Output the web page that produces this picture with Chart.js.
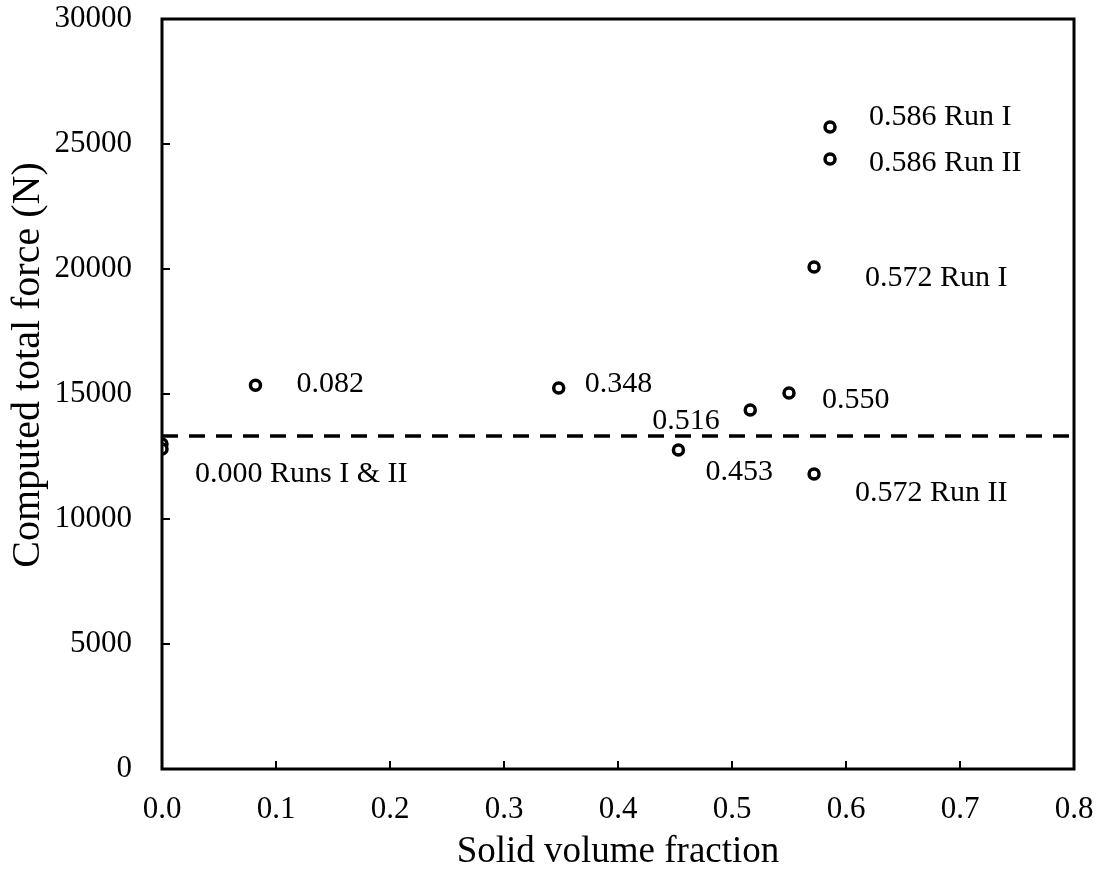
<!DOCTYPE html>
<html>
<head>
<meta charset="utf-8">
<script src="https://cdn.jsdelivr.net/npm/chart.js@4/dist/chart.umd.min.js"></script>
<style>
  body { margin: 0; background: #fff; }
  #forceChart { display: block; }
</style>
</head>
<body>
<canvas id="forceChart" width="1101" height="874"></canvas>
<script>
// solid volume fraction of each run
var fractions = [0.000, 0.000, 0.082, 0.348, 0.453, 0.516, 0.550, 0.572, 0.572, 0.586, 0.586];
// computed total force (N)
var forces = [13000, 12800, 15350, 15240, 12760, 14360, 15040, 20080, 11800, 25680, 24400];
var pointLabels = ["", "0.000 Runs I & II", "0.082", "0.348", "0.453", "0.516", "0.550",
                   "0.572 Run I", "0.572 Run II", "0.586 Run I", "0.586 Run II"];
// where each label sits relative to its point (pixels, left edge / middle)
var labelOffsets = [[0, 0], [33, 25], [41, -1], [26, -4], [27, 22], [-98, 11], [33, 7],
                    [51, 11], [41, 19], [39, -10], [39, 4]];
var meanForce = 13320;
var xTicks = [0, 0.1, 0.2, 0.3, 0.4, 0.5, 0.6, 0.7, 0.8];
var yTicks = [0, 5000, 10000, 15000, 20000, 25000, 30000];

var serif = "'Liberation Serif', 'Times New Roman', serif";

var points = fractions.map(function (f, i) { return { x: f, y: forces[i] }; });

function noPad(s) {
  s.paddingLeft = 0; s.paddingRight = 0; s.paddingTop = 0; s.paddingBottom = 0;
}

var framePlugin = {
  id: 'frame',
  afterDatasetsDraw: function (chart) {
    var ctx = chart.ctx, a = chart.chartArea;
    var xs = chart.scales.x, ys = chart.scales.y;
    ctx.save();
    ctx.strokeStyle = '#000';
    ctx.lineWidth = 3;
    ctx.strokeRect(a.left, a.top, a.right - a.left, a.bottom - a.top);
    ctx.lineWidth = 2;
    ctx.beginPath();
    xTicks.forEach(function (v) {
      var px = xs.getPixelForValue(v);
      ctx.moveTo(px, a.bottom);
      ctx.lineTo(px, a.bottom - 8);
    });
    yTicks.forEach(function (v) {
      var py = ys.getPixelForValue(v);
      ctx.moveTo(a.left, py);
      ctx.lineTo(a.left + 8, py);
    });
    ctx.stroke();

    ctx.fillStyle = '#000';
    ctx.font = '30px ' + serif;
    ctx.textBaseline = 'middle';
    ctx.textAlign = 'left';
    points.forEach(function (p, i) {
      if (!pointLabels[i]) return;
      var px = xs.getPixelForValue(p.x) + labelOffsets[i][0];
      var py = ys.getPixelForValue(p.y) + labelOffsets[i][1];
      ctx.fillText(pointLabels[i], px, py);
    });

    // y axis title, sits a little above the middle of the axis
    ctx.save();
    ctx.translate(28, 365);
    ctx.rotate(-Math.PI / 2);
    ctx.font = '40px ' + serif;
    ctx.textAlign = 'center';
    ctx.fillText('Computed total force (N)', 0, 0);
    ctx.restore();
    ctx.restore();
  }
};

new Chart(document.getElementById('forceChart'), {
  type: 'scatter',
  data: {
    datasets: [{
      data: points,
      pointStyle: 'circle',
      pointRadius: 5,
      pointBorderWidth: 3.5,
      pointBorderColor: '#000',
      pointBackgroundColor: '#fff',
      order: 0
    }, {
      type: 'line',
      data: [{ x: 0, y: meanForce }, { x: 0.8, y: meanForce }],
      borderColor: '#000',
      borderWidth: 3.5,
      borderDash: [16, 11],
      pointRadius: 0,
      fill: false,
      order: 1
    }]
  },
  options: {
    responsive: false,
    animation: false,
    layout: { padding: { top: 19, right: 27, left: 0, bottom: 0 } },
    plugins: { legend: { display: false }, tooltip: { enabled: false } },
    scales: {
      x: {
        type: 'linear',
        min: 0, max: 0.8,
        afterBuildTicks: function (s) { s.ticks = xTicks.map(function (v) { return { value: v }; }); },
        afterFit: function (s) { s.height = 105; noPad(s); },
        grid: { display: false, drawTicks: false },
        border: { display: false },
        ticks: {
          color: '#000', padding: 22, maxRotation: 0,
          font: { family: serif, size: 31 },
          callback: function (v) { return v.toFixed(1); }
        },
        title: {
          display: true, text: 'Solid volume fraction', color: '#000',
          font: { family: serif, size: 37 }, padding: { top: 0, bottom: 0 }
        }
      },
      y: {
        type: 'linear',
        min: 0, max: 30000,
        afterBuildTicks: function (s) { s.ticks = yTicks.map(function (v) { return { value: v }; }); },
        afterFit: function (s) { s.width = 162; noPad(s); },
        grid: { display: false, drawTicks: false },
        border: { display: false },
        ticks: {
          color: '#000', padding: 30,
          font: { family: serif, size: 31 },
          callback: function (v) { return String(v); }
        },
        title: { display: false }
      }
    }
  },
  plugins: [framePlugin]
});
</script>
</body>
</html>
